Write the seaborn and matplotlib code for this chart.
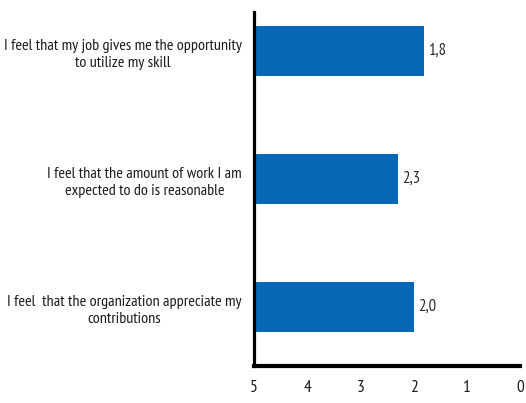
import matplotlib
matplotlib.use("Agg")
import matplotlib.pyplot as plt
import seaborn as sns
import pandas as pd

# Survey statements and their mean scores (5 = strongly agree ... 0)
statements = [
    "I feel that my job gives me the opportunity\nto utilize my skill",
    "I feel that the amount of work I am\nexpected to do is reasonable",
    "I feel  that the organization appreciate my\ncontributions",
]
scores = [1.8, 2.3, 2.0]
value_labels = ["1,8", "2,3", "2,0"]
x_ticks = [5, 4, 3, 2, 1, 0]

sns.set_theme(style="white")
plt.rcParams["font.family"] = ["PT Sans Narrow", "DejaVu Sans"]

df = pd.DataFrame({"statement": statements, "score": scores})

fig = plt.figure(figsize=(5.26, 4.03), dpi=100)
ax = fig.add_axes([254 / 526, 37 / 403, (520 - 254) / 526, (366 - 12) / 403])

sns.barplot(data=df, x="score", y="statement", orient="h", color="#0868b8",
            width=0.39, saturation=1, ax=ax)

# The value axis is reversed and the category axis crosses it at 5,
# so each bar runs from 5 to its score.
origin = 5
for patch, v in zip(ax.patches, scores):
    patch.set_x(origin)
    patch.set_width(v - origin)
    patch.set_edgecolor("none")

ax.set_xlim(5, 0)
ax.set_ylim(2.46, -0.305)
ax.set_xticks(x_ticks)
ax.set_xticklabels([str(t) for t in x_ticks], fontsize=12.5, color="#1a1a1a")
ax.set_xlabel("")
ax.set_ylabel("")

# Category labels: block right-aligned next to the axis, lines centred within it
for lab in ax.get_yticklabels():
    lab.set_horizontalalignment("right")
    lab.set_multialignment("center")
    lab.set_fontsize(11.6)
    lab.set_color("#1a1a1a")
    lab.set_linespacing(1.35)
ax.tick_params(axis="y", length=0, pad=(254 - 242) * 0.72)
ax.tick_params(axis="x", length=0, pad=10)

for spine in ["top", "right"]:
    ax.spines[spine].set_visible(False)
ax.spines["left"].set_color("black")
ax.spines["left"].set_linewidth(2.3)
ax.spines["bottom"].set_color("black")
ax.spines["bottom"].set_linewidth(3.0)

for i, (v, txt) in enumerate(zip(scores, value_labels)):
    ax.text(v - 0.08, i, txt, ha="left", va="center", fontsize=12, color="#2a2a2a")

fig.savefig("out.png", dpi=100)
